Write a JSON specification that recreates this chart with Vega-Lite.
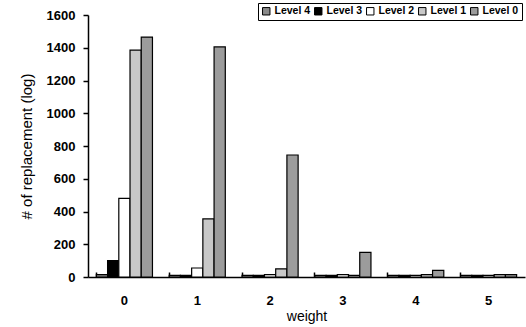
{
  "$schema": "https://vega.github.io/schema/vega-lite/v6.json",
  "width": 437,
  "height": 262,
  "autosize": "none",
  "padding": {"left": 88, "top": 15, "right": 1, "bottom": 50},
  "background": "white",
  "config": {
    "view": {"stroke": null},
    "font": "Liberation Sans",
    "axis": {
      "domainColor": "black",
      "domainWidth": 1.5,
      "tickColor": "black",
      "tickWidth": 1.5,
      "labelColor": "black",
      "titleColor": "black",
      "labelFont": "Liberation Sans",
      "titleFont": "Liberation Sans",
      "labelFontSize": 13,
      "labelFontWeight": "bold",
      "titleFontSize": 14,
      "titleFontWeight": "normal",
      "grid": false
    }
  },
  "data": {
    "values": [
      {"weight": "0", "level": "Level 4", "count": 15},
      {"weight": "0", "level": "Level 3", "count": 100},
      {"weight": "0", "level": "Level 2", "count": 480},
      {"weight": "0", "level": "Level 1", "count": 1385},
      {"weight": "0", "level": "Level 0", "count": 1465},
      {"weight": "1", "level": "Level 4", "count": 10},
      {"weight": "1", "level": "Level 3", "count": 10},
      {"weight": "1", "level": "Level 2", "count": 55},
      {"weight": "1", "level": "Level 1", "count": 355},
      {"weight": "1", "level": "Level 0", "count": 1405},
      {"weight": "2", "level": "Level 4", "count": 10},
      {"weight": "2", "level": "Level 3", "count": 10},
      {"weight": "2", "level": "Level 2", "count": 15},
      {"weight": "2", "level": "Level 1", "count": 50},
      {"weight": "2", "level": "Level 0", "count": 745},
      {"weight": "3", "level": "Level 4", "count": 10},
      {"weight": "3", "level": "Level 3", "count": 10},
      {"weight": "3", "level": "Level 2", "count": 15},
      {"weight": "3", "level": "Level 1", "count": 10},
      {"weight": "3", "level": "Level 0", "count": 150},
      {"weight": "4", "level": "Level 4", "count": 10},
      {"weight": "4", "level": "Level 3", "count": 10},
      {"weight": "4", "level": "Level 2", "count": 10},
      {"weight": "4", "level": "Level 1", "count": 15},
      {"weight": "4", "level": "Level 0", "count": 40},
      {"weight": "5", "level": "Level 4", "count": 10},
      {"weight": "5", "level": "Level 3", "count": 10},
      {"weight": "5", "level": "Level 2", "count": 10},
      {"weight": "5", "level": "Level 1", "count": 15},
      {"weight": "5", "level": "Level 0", "count": 15}
    ]
  },
  "mark": {"type": "bar", "stroke": "black", "strokeWidth": 1.2},
  "encoding": {
    "x": {
      "field": "weight",
      "type": "nominal",
      "scale": {"paddingInner": 0.23, "paddingOuter": 0.115},
      "axis": {
        "title": "weight",
        "labelAngle": 0,
        "bandPosition": 0,
        "tickSize": -5,
        "labelPadding": 22,
        "titlePadding": 2
      }
    },
    "y": {
      "field": "count",
      "type": "quantitative",
      "scale": {"domain": [0, 1600], "nice": false},
      "axis": {
        "title": "# of replacement (log)",
        "titleFontSize": 15,
        "format": "d",
        "values": [0, 200, 400, 600, 800, 1000, 1200, 1400, 1600],
        "tickSize": 5,
        "labelPadding": 8,
        "titlePadding": 12
      }
    },
    "xOffset": {
      "field": "level",
      "type": "nominal",
      "sort": ["Level 4", "Level 3", "Level 2", "Level 1", "Level 0"],
      "scale": {"paddingInner": 0, "paddingOuter": 0}
    },
    "fill": {
      "field": "level",
      "type": "nominal",
      "sort": ["Level 4", "Level 3", "Level 2", "Level 1", "Level 0"],
      "scale": {
        "domain": ["Level 4", "Level 3", "Level 2", "Level 1", "Level 0"],
        "range": ["#8a8a8a", "#000000", "#ffffff", "#c8c8c8", "#9c9c9c"]
      },
      "legend": {
        "title": null,
        "orient": "none",
        "legendX": 170,
        "legendY": -12,
        "direction": "horizontal",
        "symbolType": "square",
        "symbolSize": 55,
        "symbolStrokeColor": "black",
        "symbolStrokeWidth": 1,
        "labelFontSize": 10.5,
        "labelFontWeight": "bold",
        "labelFont": "Liberation Sans",
        "labelColor": "black",
        "labelOffset": 3,
        "columnPadding": 1,
        "symbolOffset": 0,
        "padding": 3,
        "strokeColor": "black",
        "fillColor": "white"
      }
    }
  }
}
